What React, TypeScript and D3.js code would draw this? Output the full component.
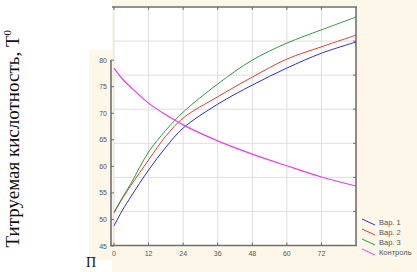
import React from "react";
import * as d3 from "d3";

const W = 417;
const H = 272;

const hours = [0, 3, 6, 12, 18, 24, 36, 48, 60, 72, 84];
const var1 = [48.8, 51.8, 54.4, 59.3, 63.6, 67.2, 71.7, 75.3, 78.5, 81.3, 83.4];
const var2 = [51.2, 54.0, 56.5, 61.2, 65.7, 69.1, 73.1, 76.8, 80.2, 82.5, 84.7];
const var3 = [51.4, 54.2, 56.9, 62.7, 66.8, 70.2, 75.5, 80.0, 83.2, 85.7, 88.1];
const control = [78.5, 76.4, 74.8, 71.9, 69.7, 67.8, 64.8, 62.3, 60.1, 58.0, 56.3];

const seriesNames = ["Вар. 1", "Вар. 2", "Вар. 3", "Контроль"];
const seriesColors = ["#2b2bd0", "#e83a30", "#2e9a3a", "#ec3cec"];
const seriesValues = [var1, var2, var3, control];

const xTicks = [0, 12, 24, 36, 48, 60, 72];
const yTicks = [45, 50, 55, 60, 65, 70, 75, 80];
const yTitle = "Титруемая кислотность, Т";

export default function App() {
  const left = 114, right = 356, top = 7, bottom = 245.5;
  const x = d3.scaleLinear().domain([0, 84]).range([left, right]);
  const y = d3.scaleLinear().domain([45, 90]).range([246, top]);
  const grid = d3.scaleLinear().domain([0, 7]).range([bottom, top]);
  const gridLines = d3.range(1, 7);

  const line = (vals: number[]) =>
    d3
      .line<number>()
      .x((_, i) => x(hours[i]))
      .y((v) => y(v))
      .curve(d3.curveCatmullRom.alpha(0.5))(vals) || "";

  const axisColor = "#6f6f6f";
  const gridColor = "#dedede";
  const cream = "#fdf7ea";
  const labelFont = "Liberation Sans, Arial, sans-serif";

  return (
    <svg
      width={W}
      height={H}
      style={{ position: "absolute", left: 0, top: 0, background: "#ffffff" }}
    >
      {/* cream backgrounds */}
      <rect x={112} y={0} width={W - 112} height={H} fill={cream} />
      <rect x={89} y={50} width={25} height={210} fill={cream} />
      {/* plot area */}
      <rect x={left} y={top} width={right - left} height={bottom - top} fill="#ffffff" />

      {/* grid */}
      {gridLines.map((g) => (
        <line key={"gy" + g} x1={left} x2={right} y1={grid(g)} y2={grid(g)} stroke={gridColor} strokeWidth={1} />
      ))}
      {xTicks.map((t) => (
        <line key={"gx" + t} x1={x(t)} x2={x(t)} y1={top} y2={bottom} stroke={gridColor} strokeWidth={1} />
      ))}

      {/* frame */}
      <line x1={112} x2={right + 1} y1={top} y2={top} stroke={axisColor} strokeWidth={1.6} />
      <line x1={right} x2={right} y1={top} y2={bottom} stroke={axisColor} strokeWidth={1.6} />
      <line x1={110} x2={right + 1} y1={bottom} y2={bottom} stroke={axisColor} strokeWidth={1.6} />
      <line x1={111} x2={111} y1={y(80)} y2={bottom} stroke={axisColor} strokeWidth={1.6} />

      {/* frame ticks */}
      {xTicks.map((t) => (
        <g key={"xt" + t}>
          <line x1={x(t)} x2={x(t)} y1={bottom} y2={bottom - 3} stroke={axisColor} />
          <line x1={x(t)} x2={x(t)} y1={top} y2={top + 3} stroke={axisColor} />
        </g>
      ))}
      {gridLines.map((g) => (
        <line key={"rt" + g} x1={right} x2={right - 3} y1={grid(g)} y2={grid(g)} stroke={axisColor} />
      ))}
      {yTicks.map((t) => (
        <line key={"yt" + t} x1={111} x2={114} y1={y(t)} y2={y(t)} stroke={axisColor} />
      ))}

      {/* tick labels */}
      {yTicks.map((t) => (
        <text key={"yl" + t} x={107} y={y(t) + 2.5} fontSize={7} fill="#555" textAnchor="end" fontFamily={labelFont}>
          {t}
        </text>
      ))}
      {xTicks.map((t) => (
        <text key={"xl" + t} x={x(t)} y={256} fontSize={7} fill="#555" textAnchor="middle" fontFamily={labelFont}>
          {t}
        </text>
      ))}

      {/* series */}
      {seriesValues.map((vals, i) => (
        <path
          key={"s" + i}
          d={line(vals)}
          fill="none"
          stroke={seriesColors[i]}
          strokeWidth={i === 3 ? 1.2 : 1}
        />
      ))}

      {/* legend */}
      {seriesNames.map((n, i) => {
        const ly = 222 + i * 10;
        return (
          <g key={"lg" + i}>
            <line x1={362} y1={ly - 3} x2={375} y2={ly + 3} stroke={seriesColors[i]} strokeWidth={1} />
            <text x={379} y={ly + 2.5} fontSize={7.5} fill="#555" fontFamily={labelFont}>
              {n}
            </text>
          </g>
        );
      })}

      {/* y title */}
      <text
        transform="translate(19,30) rotate(-90)"
        textAnchor="end"
        fontSize={19}
        fontFamily="Liberation Serif, Times New Roman, serif"
        fill="#111"
      >
        {yTitle}
        <tspan fontSize={11} dy={-8}>0</tspan>
      </text>

      {/* cut-off axis caption */}
      <text x={86} y={267} fontSize={14} fontFamily="Liberation Serif, Times New Roman, serif" fill="#111">
        П
      </text>
    </svg>
  );
}
